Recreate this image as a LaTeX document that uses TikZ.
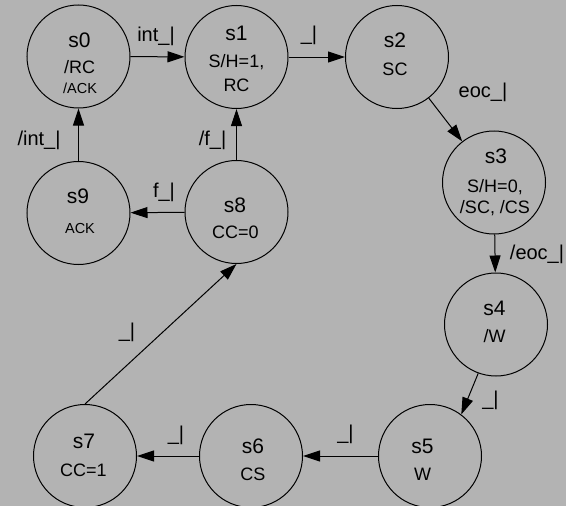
\documentclass[tikz,border=0pt]{standalone}
\usepackage{fontspec}
\setmainfont{Liberation Sans}
\usetikzlibrary{arrows.meta}
\definecolor{bg}{HTML}{B3B3B3}
\begin{document}
\begin{tikzpicture}[x=1pt,y=-1pt,
  state/.style={circle,draw,line width=1pt,minimum size=103pt,inner sep=0pt},
  nm/.style={font=\fontsize{21}{21}\selectfont,inner sep=0pt,anchor=base},
  tx/.style={font=\fontsize{18}{18}\selectfont,inner sep=0pt,anchor=base},
  sm/.style={font=\fontsize{14.5}{14.5}\selectfont,inner sep=0pt,anchor=base},
  lb/.style={font=\fontsize{20}{20}\selectfont,inner sep=0pt},
  edge/.style={line width=1pt,-{Triangle[length=17pt,width=11pt]}}]
\fill[bg] (0,0) rectangle (566,506);
\useasboundingbox (0,0) rectangle (566,506);
% states
\node[state] (s0) at (78.5,56.5) {};
\node[state] (s1) at (236.5,57) {};
\node[state] (s2) at (397,57) {};
\node[state] (s3) at (494,182.5) {};
\node[state] (s4) at (496,324.5) {};
\node[state] (s5) at (430,456) {};
\node[state] (s6) at (251,456) {};
\node[state] (s7) at (85,456) {};
\node[state] (s8) at (236.5,212) {};
\node[state] (s9) at (78.5,213) {};
% texts
\node[nm] (t0a) at (79.5,47) {s0};
\node[tx] (t0b) at (79.5,74) {/RC};
\node[sm] (t0c) at (80,93) {/ACK};
\node[nm] (t1a) at (236.5,41) {s1};
\node[tx] (t1b) at (236.5,67) {S/H=1,};
\node[tx] (t1c) at (236.5,92) {RC};
\node[nm] (t2a) at (395,48) {s2};
\node[tx] (t2b) at (395,75) {SC};
\node[nm] (t3a) at (496,163) {s3};
\node[tx] (t3b) at (495,192) {S/H=0,};
\node[tx] (t3c) at (495,213) {/SC, /CS};
\node[nm] (t4a) at (494.5,315) {s4};
\node[tx] (t4b) at (494.5,342) {/W};
\node[nm] (t5a) at (422.5,453) {s5};
\node[tx] (t5b) at (422.5,480) {W};
\node[nm] (t6a) at (253,453) {s6};
\node[tx] (t6b) at (253,480) {CS};
\node[nm] (t7a) at (84,448) {s7};
\node[tx] (t7b) at (83.5,476) {CC=1};
\node[nm] (t8a) at (235,212) {s8};
\node[tx] (t8b) at (235.5,238) {CC=0};
\node[nm] (t9a) at (78,203) {s9};
\node[sm] (t9b) at (80,233) {ACK};
% edges
\draw[edge] (s0) -- (s1);
\draw[edge] (s1) -- (s2);
\draw[edge] (s2) -- (s3);
\draw[edge] (s3) -- (s4);
\draw[edge] (s4.250) -- (s5.53);
\draw[edge] (s5) -- (s6);
\draw[edge] (s6) -- (s7);
\draw[edge] (s7.north) -- (s8.south);
\draw[edge] (s8) -- (s9);
\draw[edge] (s8) -- (s1);
\draw[edge] (s9) -- (s0);
% labels
\node[lb] (l01) at (156,36.5) {int\_|};
\node[lb] (l12) at (309,35) {\_|};
\node[lb] (l23) at (483,92.5) {eoc\_|};
\node[lb] (l34) at (537,254) {/eoc\_|};
\node[lb] (l45) at (490.5,400) {\_|};
\node[lb] (l56) at (345.5,434.5) {\_|};
\node[lb] (l67) at (176,435) {\_|};
\node[lb] (l78) at (127,332) {\_|};
\node[lb] (l89) at (164,192) {f\_|};
\node[lb] (l81) at (212.5,140.5) {/f\_|};
\node[lb] (l90) at (39,140) {/int\_|};
\end{tikzpicture}
\end{document}
